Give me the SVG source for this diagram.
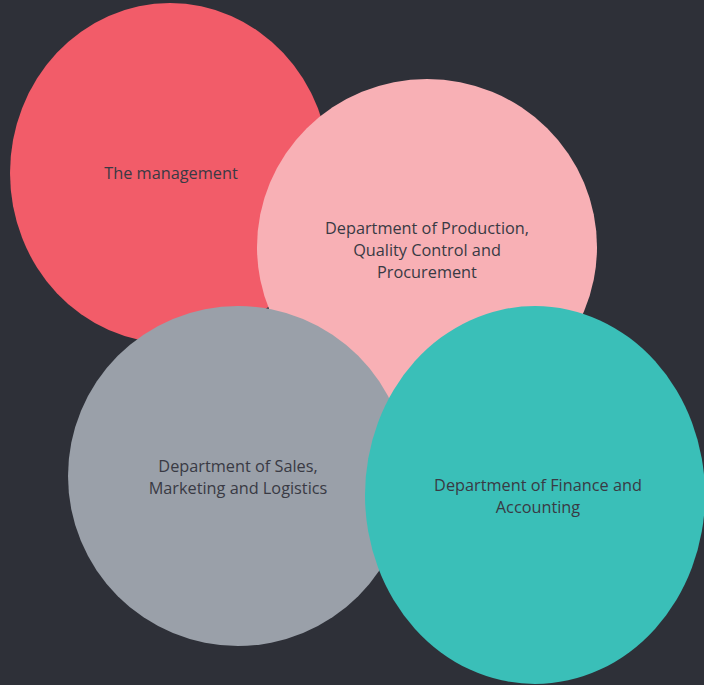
<svg xmlns="http://www.w3.org/2000/svg" width="704" height="685" viewBox="0 0 704 685">
<style>
text{font-family:"Open Sans","Liberation Sans",sans-serif;font-size:16.3px;fill:#393a44;text-anchor:middle}
</style>
<rect width="704" height="685" fill="#2e3038"/>
<g id="connectors"/>
<g id="management"><ellipse cx="170" cy="173" rx="160" ry="170" fill="#f25c69"/><text x="171" y="179">The management</text></g>
<g id="production"><ellipse cx="427" cy="247" rx="170" ry="168" fill="#f8b0b5"/><text x="427" y="234">Department of Production,</text><text x="427" y="256">Quality Control and</text><text x="427" y="278">Procurement</text></g>
<g id="sales"><ellipse cx="238" cy="476" rx="170" ry="170" fill="#9aa0a9"/><text x="238" y="472">Department of Sales,</text><text x="238" y="494">Marketing and Logistics</text></g>
<g id="finance"><ellipse cx="535" cy="495" rx="170" ry="189" fill="#3abfb8"/><text x="538" y="491">Department of Finance and</text><text x="538" y="513">Accounting</text></g>
</svg>
